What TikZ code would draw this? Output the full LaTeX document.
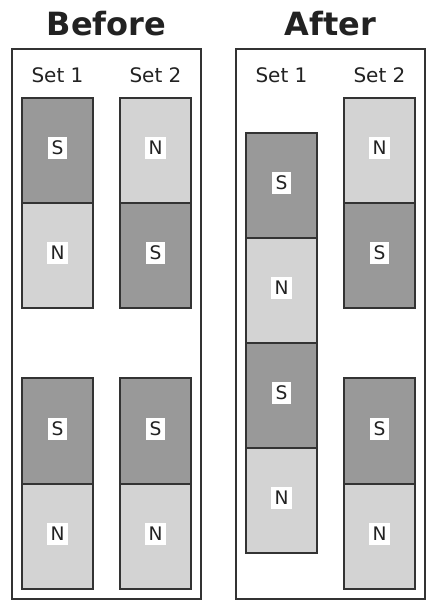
\documentclass[tikz,border=0pt]{standalone}
\usepackage{fontspec}
\setmainfont{DejaVu Sans}

\definecolor{southgray}{HTML}{999999}
\definecolor{northgray}{HTML}{D3D3D3}
\definecolor{edgegray}{HTML}{333333}
\definecolor{inkgray}{HTML}{222222}

\begin{document}
\begin{tikzpicture}[x=0.75pt, y=-0.75pt, % pixel units, y downwards
    frame/.style={draw=edgegray, line width=1.1pt},
    spole/.style={fill=southgray, draw=edgegray, line width=1.1pt},
    npole/.style={fill=northgray, draw=edgegray, line width=1.1pt},
    polelabel/.style={fill=white, inner xsep=3pt, inner ysep=3pt, yshift=1.8pt, text=inkgray, font=\fontsize{14}{14}\selectfont},
    setlabel/.style={anchor=base, text=inkgray, font=\fontsize{15}{15}\selectfont},
    title/.style={anchor=base, text=inkgray, font=\fontsize{24}{24}\selectfont\bfseries}]

    \useasboundingbox (0, 0) rectangle (438, 614);

    % Titles
    \node[title] (before) at (106.5, 35) {Before};
    \node[title] (after) at (330.5, 35) {After};

    % Frames
    \draw[frame] (12, 49) rectangle (201, 599); % Before
    \draw[frame] (236, 49) rectangle (425, 599); % After

    % Set labels
    \node[setlabel] (bset1) at (57.5, 82) {Set 1};
    \node[setlabel] (bset2) at (155.5, 82) {Set 2};
    \node[setlabel] (aset1) at (281.5, 82) {Set 1};
    \node[setlabel] (aset2) at (379.5, 82) {Set 2};

    % Before, set 1
    \draw[spole] (22, 98) rectangle (93, 203); % Top magnet
    \draw[npole] (22, 203) rectangle (93, 308);
    \draw[spole] (22, 378) rectangle (93, 484); % Bottom magnet
    \draw[npole] (22, 484) rectangle (93, 589);
    \node[polelabel] (b1s1) at (57.5, 150.5) {S};
    \node[polelabel] (b1n1) at (57.5, 255.5) {N};
    \node[polelabel] (b1s2) at (57.5, 431) {S};
    \node[polelabel] (b1n2) at (57.5, 536.5) {N};

    % Before, set 2
    \draw[npole] (120, 98) rectangle (191, 203); % Top magnet
    \draw[spole] (120, 203) rectangle (191, 308);
    \draw[spole] (120, 378) rectangle (191, 484); % Bottom magnet
    \draw[npole] (120, 484) rectangle (191, 589);
    \node[polelabel] (b2n1) at (155.5, 150.5) {N};
    \node[polelabel] (b2s1) at (155.5, 255.5) {S};
    \node[polelabel] (b2s2) at (155.5, 431) {S};
    \node[polelabel] (b2n2) at (155.5, 536.5) {N};

    % After, set 1 (magnets stacked)
    \draw[spole] (246, 133) rectangle (317, 238);
    \draw[npole] (246, 238) rectangle (317, 343);
    \draw[spole] (246, 343) rectangle (317, 448);
    \draw[npole] (246, 448) rectangle (317, 553);
    \node[polelabel] (a1s1) at (281.5, 185.5) {S};
    \node[polelabel] (a1n1) at (281.5, 290.5) {N};
    \node[polelabel] (a1s2) at (281.5, 395.5) {S};
    \node[polelabel] (a1n2) at (281.5, 500.5) {N};

    % After, set 2
    \draw[npole] (344, 98) rectangle (415, 203); % Top magnet
    \draw[spole] (344, 203) rectangle (415, 308);
    \draw[spole] (344, 378) rectangle (415, 484); % Bottom magnet
    \draw[npole] (344, 484) rectangle (415, 589);
    \node[polelabel] (a2n1) at (379.5, 150.5) {N};
    \node[polelabel] (a2s1) at (379.5, 255.5) {S};
    \node[polelabel] (a2s2) at (379.5, 431) {S};
    \node[polelabel] (a2n2) at (379.5, 536.5) {N};

\end{tikzpicture}
\end{document}
